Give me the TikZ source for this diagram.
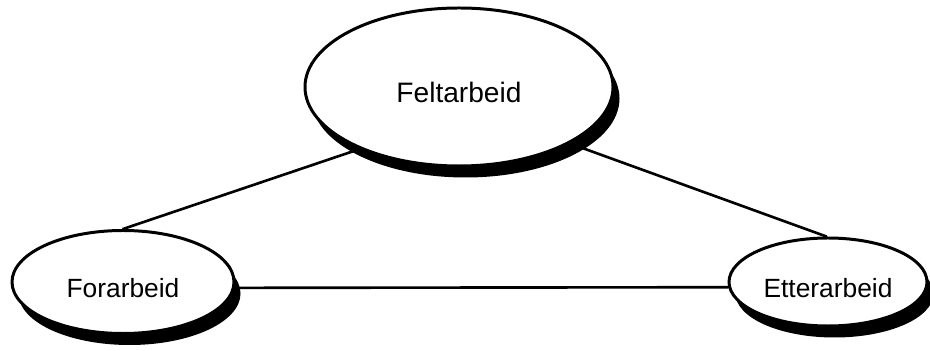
\documentclass[tikz,border=0pt]{standalone}
\usepackage{fontspec}
\setmainfont{Liberation Sans}
\usetikzlibrary{shapes.geometric,shadows}

\begin{document}
\begin{tikzpicture}[x=1cm, y=1cm, line cap=round, line join=round]
  \tikzset{
    phase/.style={ellipse, draw=black, line width=1.7pt, fill=white, inner sep=0pt,
      text height=0.64cm, text depth=0pt,
      font=\fontsize{15pt}{17pt}\selectfont,
      drop shadow={shadow xshift=0.13cm, shadow yshift=-0.23cm, fill=black, opacity=1}},
    link/.style={line width=1.5pt, draw=black}
  }

  % Canvas
  \useasboundingbox (0, 0) rectangle (18.6, 7.02);

  % Centres of the three phases
  \coordinate (felt_pos) at (9.18, 5.28);
  \coordinate (for_pos) at (2.46, 1.38);
  \coordinate (ett_pos) at (16.56, 1.38);

  % Fieldwork at the top
  \node[phase, font=\fontsize{16pt}{18pt}\selectfont, minimum width=6.16cm, minimum height=3.16cm] (felt) at (felt_pos) {Feltarbeid};

  % Preparation, bottom left
  \node[phase, minimum width=4.44cm, minimum height=2.06cm] (for) at (for_pos) {Forarbeid};

  % Follow-up, bottom right
  \node[phase, minimum width=3.96cm, minimum height=1.76cm] (ett) at (ett_pos) {Etterarbeid};

  % Connecting lines
  \draw[link] (felt.212) -- (for.north);
  \draw[link] (felt.333) -- (ett.92);
  \draw[link] (for.-3) -- (ett.183);

\end{tikzpicture}
\end{document}
